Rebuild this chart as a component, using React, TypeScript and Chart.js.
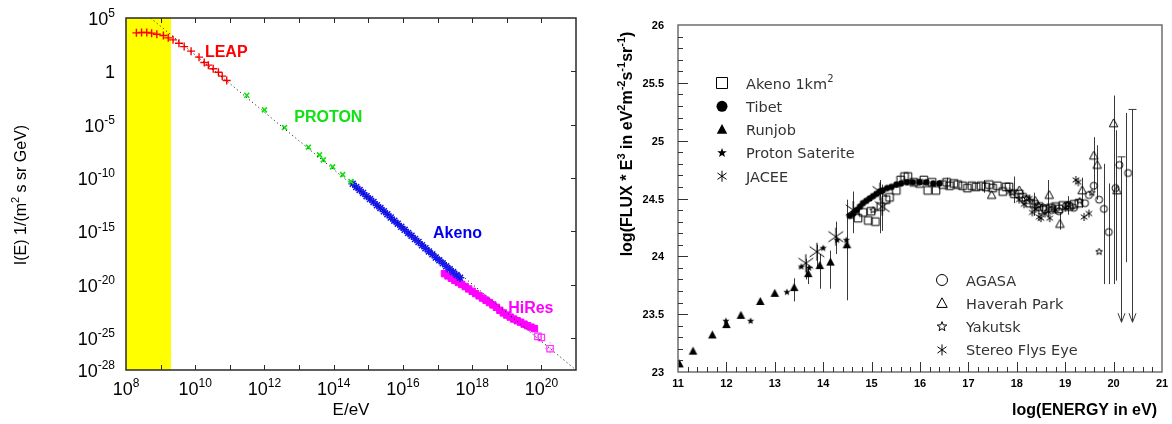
import React, { useEffect, useRef } from "react";
import { Chart, registerables } from "chart.js";

Chart.register(...registerables);

// ================= LEFT PANEL (values are log10) =================
const leftXLabelExps = [8, 10, 12, 14, 16, 18, 20];
const leftXTickExps = [9, 10, 11, 12, 13, 14, 15, 16, 17, 18, 19, 20];
const leftYLabelExps = [5, 0, -5, -10, -15, -20, -25, -28];
const leftXLimits = [8, 21];
const leftYLimits = [-28, 5];
const yellowBandLogE = [8, 9.3];

const fitLogE = [8.71, 21.0];
const fitLogI = [5.0, -28.0];

const leapLogE = [8.3, 8.45, 8.6, 8.74, 8.89, 9.08, 9.22, 9.36, 9.53, 9.68, 9.88, 10.11, 10.26, 10.38, 10.52, 10.67, 10.78, 10.91];
const leapLogI = [3.61, 3.64, 3.64, 3.58, 3.48, 3.36, 3.14, 2.95, 2.63, 2.32, 1.89, 1.33, 0.83, 0.58, 0.24, -0.08, -0.45, -0.86];

const protonLogE = [11.49, 12.0, 12.58, 13.27, 13.59, 13.7, 13.97, 14.26, 14.5];
const protonLogI = [-2.24, -3.61, -5.27, -7.11, -7.83, -8.3, -8.96, -9.68, -10.34];

const akenoLogE = [14.55, 14.65, 14.75, 14.85, 14.95, 15.05, 15.15, 15.25, 15.35, 15.45, 15.55, 15.65, 15.75, 15.85, 15.95, 16.05, 16.15, 16.25, 16.35, 16.45, 16.55, 16.65, 16.75, 16.85, 16.95, 17.05, 17.15, 17.25, 17.35, 17.45, 17.55, 17.65];
const akenoLogI = [-10.55, -10.85, -11.12, -11.4, -11.7, -11.98, -12.25, -12.55, -12.82, -13.12, -13.4, -13.7, -14.0, -14.28, -14.58, -14.86, -15.15, -15.42, -15.72, -16.0, -16.3, -16.58, -16.88, -17.16, -17.45, -17.72, -18.0, -18.28, -18.55, -18.82, -19.1, -19.35];

const hiresLogE = [17.2, 17.3, 17.4, 17.5, 17.6, 17.7, 17.8, 17.9, 18.0, 18.1, 18.2, 18.3, 18.4, 18.5, 18.6, 18.7, 18.8, 18.9, 19.0, 19.1, 19.2, 19.3, 19.4, 19.5, 19.6, 19.7, 19.8];
const hiresLogI = [-18.97, -19.18, -19.4, -19.6, -19.8, -19.98, -20.18, -20.4, -20.62, -20.84, -21.05, -21.26, -21.46, -21.68, -21.9, -22.12, -22.4, -22.65, -22.85, -23.04, -23.22, -23.38, -23.52, -23.7, -23.85, -23.98, -24.12];
const hiresHighLogE = [19.9, 20.0, 20.25];
const hiresHighLogI = [-24.85, -24.95, -26.0];
const hiresHighErrLogE = [0.08, 0.08, 0.15];
const hiresHighErrLogI = [0.35, 0.4, 0.6];

const seriesLabels = [
  { text: "LEAP", color: "#ff0000", logE: 10.28, logI: 1.95 },
  { text: "PROTON", color: "#11e011", logE: 12.86, logI: -4.23 },
  { text: "Akeno", color: "#0000ee", logE: 16.87, logI: -15.1 },
  { text: "HiRes", color: "#ff00ff", logE: 19.04, logI: -22.13 },
];

// ================= RIGHT PANEL =================
const rightXLabels = [11, 12, 13, 14, 15, 16, 17, 18, 19, 20, 21];
const rightYLabels = [23, 23.5, 24, 24.5, 25, 25.5, 26];

const akenoSqX = [14.72, 14.82, 14.93, 14.99, 15.08, 15.19, 15.3, 15.37, 15.51, 15.6, 15.68, 15.75, 15.87, 15.99, 16.08, 16.16, 16.25, 16.33, 16.47, 16.55, 16.61, 16.7, 16.78, 16.88, 16.98, 17.07, 17.16, 17.26, 17.36, 17.43, 17.5, 17.6, 17.71, 17.78, 17.84, 17.95, 18.05, 18.12, 18.19, 18.26, 18.36, 18.46, 18.53, 18.6, 18.7, 18.8, 18.87, 18.95, 19.08, 19.18, 19.28];
const akenoSqY = [24.33, 24.38, 24.31, 24.39, 24.3, 24.43, 24.49, 24.51, 24.57, 24.66, 24.69, 24.69, 24.64, 24.63, 24.66, 24.57, 24.64, 24.57, 24.62, 24.64, 24.61, 24.63, 24.62, 24.61, 24.59, 24.61, 24.6, 24.61, 24.6, 24.62, 24.59, 24.61, 24.56, 24.6, 24.6, 24.54, 24.54, 24.51, 24.49, 24.46, 24.45, 24.43, 24.4, 24.41, 24.42, 24.43, 24.41, 24.44, 24.43, 24.45, 24.46];

const tibetX = [14.55, 14.62, 14.69, 14.76, 14.82, 14.89, 14.96, 15.03, 15.1, 15.17, 15.23, 15.32, 15.41, 15.51, 15.61, 15.73, 15.85, 15.99, 16.13, 16.27, 16.4];
const tibetY = [24.35, 24.37, 24.4, 24.43, 24.46, 24.48, 24.5, 24.52, 24.54, 24.56, 24.57, 24.59, 24.6, 24.62, 24.63, 24.64, 24.64, 24.64, 24.64, 24.63, 24.63];

const runjobX = [11.03, 11.31, 11.71, 12.0, 12.3, 12.7, 13.0, 13.4, 13.69, 13.93, 14.15, 14.49];
const runjobY = [23.07, 23.18, 23.32, 23.41, 23.49, 23.61, 23.68, 23.73, 23.85, 23.92, 23.95, 24.1];

const protonSatX = [11.99, 12.5, 13.25, 13.55, 13.71, 14.0, 14.29, 14.48];
const protonSatY = [23.44, 23.44, 23.69, 23.91, 23.9, 24.07, 24.14, 24.14];

const jaceeX = [13.64, 13.87, 14.26, 14.62, 15.17, 15.22];
const jaceeY = [23.94, 24.04, 24.17, 24.4, 24.56, 24.43];

const agasaX = [18.55, 18.72, 18.87, 19.02, 19.18, 19.41, 19.49, 19.59, 19.7, 19.8, 19.9, 20.04, 20.12, 20.3];
const agasaY = [24.42, 24.4, 24.39, 24.44, 24.42, 24.46, 24.53, 24.61, 24.49, 24.41, 24.21, 24.59, 24.79, 24.72];

const haverahX = [17.48, 18.05, 18.38, 18.67, 18.89, 19.1, 19.35, 19.59, 19.66, 20.0, 20.07];
const haverahY = [24.53, 24.57, 24.48, 24.53, 24.28, 24.44, 24.57, 24.87, 24.79, 25.15, 24.57];

const yakutskX = [15.03, 17.9, 18.2, 18.45, 18.75, 19.05, 19.3, 19.55, 19.7];
const yakutskY = [24.4, 24.55, 24.5, 24.44, 24.42, 24.45, 24.48, 24.55, 24.04];

const flysEyeX = [17.85, 18.05, 18.15, 18.26, 18.32, 18.39, 18.46, 18.5, 18.58, 18.68, 18.8, 19.0, 19.22, 19.27, 19.39, 19.49];
const flysEyeY = [24.56, 24.49, 24.45, 24.5, 24.38, 24.41, 24.34, 24.33, 24.37, 24.33, 24.4, 24.42, 24.66, 24.64, 24.34, 24.37];

const errX = [13.4, 13.64, 13.69, 13.87, 13.93, 14.15, 14.26, 14.49, 14.62, 15.17, 15.22, 16.55, 17.33, 17.95, 18.36, 18.65, 18.89, 19.05, 19.35, 19.59, 19.66, 19.8, 19.9, 20.0, 20.05, 20.26];
const errLo = [23.61, 23.8, 23.76, 23.9, 23.72, 23.72, 24.02, 23.62, 24.2, 24.2, 24.22, 24.58, 24.55, 24.46, 24.35, 24.34, 24.23, 24.36, 24.42, 24.57, 24.49, 23.76, 23.76, 23.76, 23.79, 23.95];
const errHi = [23.81, 23.98, 23.91, 24.1, 24.02, 24.05, 24.3, 24.49, 24.56, 24.66, 24.62, 24.68, 24.66, 24.69, 24.55, 24.66, 24.38, 24.52, 24.68, 25.03, 24.96, 24.8, 24.63, 25.39, 25.09, 25.24];

const limitX = [20.16, 20.38];
const limitTop = [24.86, 25.27];
const limitBottom = [23.43, 23.43];

const legendTop = [
  { label: "Akeno 1km", sup: "2", sym: "square" },
  { label: "Tibet", sup: "", sym: "dot" },
  { label: "Runjob", sup: "", sym: "triFill" },
  { label: "Proton Saterite", sup: "", sym: "starFill" },
  { label: "JACEE", sup: "", sym: "aster" },
];
const legendBottom = [
  { label: "AGASA", sup: "", sym: "circle" },
  { label: "Haverah Park", sup: "", sym: "triOpen" },
  { label: "Yakutsk", sup: "", sym: "starOpen" },
  { label: "Stereo Flys Eye", sup: "", sym: "aster" },
];

// ================= helpers =================
const SANS = '"Liberation Sans", Arial, Helvetica, sans-serif';
const LEG = '"DejaVu Sans", "Liberation Sans", sans-serif';

type Seg = [string, boolean];
function drawRich(
  ctx: CanvasRenderingContext2D,
  segs: Seg[],
  x: number,
  y: number,
  size: number,
  weight: string,
  family: string,
  align: "left" | "center" | "right",
  color: string
) {
  const sup = Math.round(size * 0.68);
  let total = 0;
  const widths = segs.map(([t, s]) => {
    ctx.font = `${weight} ${s ? sup : size}px ${family}`;
    const w = ctx.measureText(t).width;
    total += w;
    return w;
  });
  let cx = align === "left" ? x : align === "center" ? x - total / 2 : x - total;
  ctx.fillStyle = color;
  ctx.textAlign = "left";
  ctx.textBaseline = "alphabetic";
  segs.forEach(([t, s], i) => {
    ctx.font = `${weight} ${s ? sup : size}px ${family}`;
    ctx.fillText(t, cx, s ? y - size * 0.42 : y);
    cx += widths[i];
  });
}

function drawSymbol(ctx: CanvasRenderingContext2D, kind: string, cx: number, cy: number, s: number) {
  ctx.save();
  ctx.strokeStyle = "#000";
  ctx.fillStyle = "#000";
  ctx.lineWidth = 1;
  ctx.beginPath();
  if (kind === "square") {
    ctx.rect(cx - s, cy - s, 2 * s, 2 * s);
    ctx.stroke();
  } else if (kind === "dot" || kind === "circle") {
    ctx.arc(cx, cy, s, 0, Math.PI * 2);
    if (kind === "dot") ctx.fill();
    else ctx.stroke();
  } else if (kind === "triFill" || kind === "triOpen") {
    ctx.moveTo(cx, cy - s);
    ctx.lineTo(cx + s * 0.95, cy + s * 0.75);
    ctx.lineTo(cx - s * 0.95, cy + s * 0.75);
    ctx.closePath();
    if (kind === "triFill") ctx.fill();
    else ctx.stroke();
  } else if (kind === "starFill" || kind === "starOpen") {
    for (let k = 0; k < 10; k++) {
      const r = k % 2 === 0 ? s : s * 0.42;
      const a = -Math.PI / 2 + (k * Math.PI) / 5;
      const px = cx + r * Math.cos(a);
      const py = cy + r * Math.sin(a);
      if (k === 0) ctx.moveTo(px, py);
      else ctx.lineTo(px, py);
    }
    ctx.closePath();
    if (kind === "starFill") ctx.fill();
    else ctx.stroke();
  } else if (kind === "aster") {
    for (const deg of [90, 35, 145]) {
      const r = (deg * Math.PI) / 180;
      ctx.moveTo(cx - s * Math.cos(r), cy - s * Math.sin(r));
      ctx.lineTo(cx + s * Math.cos(r), cy + s * Math.sin(r));
    }
    ctx.stroke();
  }
  ctx.restore();
}

function symbolCanvas(kind: string, s: number) {
  const c = document.createElement("canvas");
  const size = Math.ceil(2 * s + 4);
  c.width = size;
  c.height = size;
  const ctx = c.getContext("2d")!;
  drawSymbol(ctx, kind, size / 2, size / 2, s);
  return c;
}

const toPts = (xs: number[], ys: number[]) => xs.map((x, i) => ({ x: Math.pow(10, x), y: Math.pow(10, ys[i]) }));
const toLin = (xs: number[], ys: number[]) => xs.map((x, i) => ({ x, y: ys[i] }));

// ================= left plugin =================
const leftDecor = {
  id: "leftDecor",
  beforeDatasetsDraw(chart: any) {
    const { ctx, chartArea: a, scales } = chart;
    const xs = scales.x;
    const ys = scales.y;
    const x0 = xs.getPixelForValue(Math.pow(10, yellowBandLogE[0]));
    const x1 = xs.getPixelForValue(Math.pow(10, yellowBandLogE[1]));
    ctx.save();
    ctx.fillStyle = "#ffff00";
    ctx.fillRect(x0, a.top, x1 - x0, a.bottom - a.top);
    // dotted error crosshairs of the highest-energy HiRes points
    ctx.strokeStyle = "#ff66ff";
    ctx.lineWidth = 1;
    ctx.setLineDash([1, 1.5]);
    ctx.beginPath();
    hiresHighLogE.forEach((e, i) => {
      const px = xs.getPixelForValue(Math.pow(10, e));
      const py = ys.getPixelForValue(Math.pow(10, hiresHighLogI[i]));
      ctx.moveTo(xs.getPixelForValue(Math.pow(10, e - hiresHighErrLogE[i])), py);
      ctx.lineTo(xs.getPixelForValue(Math.pow(10, e + hiresHighErrLogE[i])), py);
      ctx.moveTo(px, ys.getPixelForValue(Math.pow(10, hiresHighLogI[i] + hiresHighErrLogI[i])));
      ctx.lineTo(px, ys.getPixelForValue(Math.pow(10, hiresHighLogI[i] - hiresHighErrLogI[i])));
    });
    ctx.stroke();
    ctx.restore();
  },
  afterDraw(chart: any) {
    const { ctx, chartArea: a, scales } = chart;
    const xs = scales.x;
    const ys = scales.y;
    ctx.save();
    // frame
    ctx.strokeStyle = "#2a2a2a";
    ctx.lineWidth = 1.5;
    ctx.strokeRect(a.left, a.top, a.right - a.left, a.bottom - a.top);
    // ticks
    ctx.lineWidth = 1;
    ctx.beginPath();
    for (const e of leftXTickExps) {
      const px = Math.round(xs.getPixelForValue(Math.pow(10, e))) + 0.5;
      ctx.moveTo(px, a.bottom);
      ctx.lineTo(px, a.bottom - 5);
      ctx.moveTo(px, a.top);
      ctx.lineTo(px, a.top + 5);
    }
    for (const e of leftYLabelExps) {
      if (e === leftYLimits[0] || e === leftYLimits[1]) continue;
      const py = Math.round(ys.getPixelForValue(Math.pow(10, e))) + 0.5;
      ctx.moveTo(a.right, py);
      ctx.lineTo(a.right - 5, py);
    }
    ctx.stroke();
    // tick labels
    for (const e of leftXLabelExps) {
      const px = xs.getPixelForValue(Math.pow(10, e));
      drawRich(ctx, [["10", false], [String(e), true]], px, a.bottom + 25, 18, "normal", SANS, "center", "#000");
    }
    for (const e of leftYLabelExps) {
      const py = ys.getPixelForValue(Math.pow(10, e));
      const segs: Seg[] = e === 0 ? [["1", false]] : [["10", false], [String(e), true]];
      drawRich(ctx, segs, a.left - 11, py + 7, 18, "normal", SANS, "right", "#000");
    }
    // axis titles
    drawRich(ctx, [["E/eV", false]], (a.left + a.right) / 2, a.bottom + 45, 17, "normal", SANS, "center", "#000");
    ctx.save();
    ctx.translate(26, 195);
    ctx.rotate(-Math.PI / 2);
    drawRich(ctx, [["I(E) 1/(m", false], ["2", true], [" s sr GeV)", false]], 0, 0, 16, "normal", SANS, "center", "#000");
    ctx.restore();
    // series labels
    for (const l of seriesLabels) {
      const px = xs.getPixelForValue(Math.pow(10, l.logE));
      const py = ys.getPixelForValue(Math.pow(10, l.logI));
      drawRich(ctx, [[l.text, false]], px, py + 6, 16, "bold", SANS, "left", l.color);
    }
    ctx.restore();
  },
};

// ================= right plugin =================
const rightDecor = {
  id: "rightDecor",
  beforeDatasetsDraw(chart: any) {
    const { ctx, scales } = chart;
    const xs = scales.x;
    const ys = scales.y;
    ctx.save();
    ctx.strokeStyle = "#3a3a3a";
    ctx.lineWidth = 1;
    ctx.beginPath();
    errX.forEach((v, i) => {
      const px = Math.round(xs.getPixelForValue(v)) + 0.5;
      ctx.moveTo(px, ys.getPixelForValue(errLo[i]));
      ctx.lineTo(px, ys.getPixelForValue(errHi[i]));
    });
    limitX.forEach((v, i) => {
      const px = Math.round(xs.getPixelForValue(v)) + 0.5;
      const yt = ys.getPixelForValue(limitTop[i]);
      const yb = ys.getPixelForValue(limitBottom[i]);
      ctx.moveTo(px, yt);
      ctx.lineTo(px, yb);
      ctx.moveTo(px - 4, yt);
      ctx.lineTo(px + 4, yt);
      ctx.moveTo(px - 3.5, yb - 9);
      ctx.lineTo(px, yb);
      ctx.lineTo(px + 3.5, yb - 9);
    });
    ctx.stroke();
    ctx.restore();
  },
  afterDraw(chart: any) {
    const { ctx, chartArea: a, scales } = chart;
    const xs = scales.x;
    const ys = scales.y;
    ctx.save();
    ctx.strokeStyle = "#6e6e6e";
    ctx.lineWidth = 1.5;
    ctx.strokeRect(a.left, a.top, a.right - a.left, a.bottom - a.top);
    ctx.strokeStyle = "#333";
    ctx.lineWidth = 1;
    ctx.beginPath();
    for (let i = 231; i < 260; i++) {
      const py = Math.round(ys.getPixelForValue(i / 10)) + 0.5;
      const len = i % 5 === 0 ? 10 : 5;
      ctx.moveTo(a.left, py);
      ctx.lineTo(a.left + len, py);
    }
    for (let i = 112; i < 210; i += 2) {
      const px = Math.round(xs.getPixelForValue(i / 10)) + 0.5;
      const len = i % 10 === 0 ? 10 : 5;
      ctx.moveTo(px, a.bottom);
      ctx.lineTo(px, a.bottom - len);
    }
    ctx.stroke();
    for (const v of rightYLabels) {
      const py = ys.getPixelForValue(v);
      drawRich(ctx, [[String(v), false]], a.left - 14, py + 4, 11, "bold", SANS, "right", "#000");
    }
    for (const v of rightXLabels) {
      const px = xs.getPixelForValue(v);
      drawRich(ctx, [[String(v), false]], px, a.bottom + 15, 11, "bold", SANS, "center", "#000");
    }
    // titles
    drawRich(ctx, [["log(ENERGY in eV)", false]], a.right - 5, a.bottom + 43, 16, "bold", SANS, "right", "#000");
    ctx.save();
    ctx.translate(a.left - 46, 144);
    ctx.rotate(-Math.PI / 2);
    drawRich(
      ctx,
      [["log(FLUX * E", false], ["3", true], [" in eV", false], ["2", true], ["m", false], ["-2", true], ["s", false], ["-1", true], ["sr", false], ["-1", true], [")", false]],
      0,
      0,
      16,
      "bold",
      SANS,
      "center",
      "#000"
    );
    ctx.restore();
    // legends
    const drawLegend = (items: { label: string; sup: string; sym: string }[], sx: number, sy: number) => {
      items.forEach((it, i) => {
        const cy = sy + i * 23.3;
        drawSymbol(ctx, it.sym, sx, cy, it.sym === "starFill" || it.sym === "starOpen" ? 5 : 5.5);
        const segs: Seg[] = it.sup ? [[it.label, false], [it.sup, true]] : [[it.label, false]];
        drawRich(ctx, segs, sx + 24, cy + 5.5, 14.5, "normal", LEG, "left", "#333");
      });
    };
    drawLegend(legendTop, a.left + 44, a.top + 58);
    drawLegend(legendBottom, a.left + 264, a.top + 255);
    ctx.restore();
  },
};

function leftConfig(): any {
  return {
    type: "scatter",
    data: {
      datasets: [
        {
          data: toPts(fitLogE, fitLogI),
          showLine: true,
          borderColor: "#000",
          borderWidth: 1,
          borderDash: [1, 3],
          pointRadius: 0,
        },
        { data: toPts(leapLogE, leapLogI), pointStyle: "cross", pointRadius: 4, borderColor: "#ff0000", borderWidth: 1.4 },
        { data: toPts(protonLogE, protonLogI), pointStyle: "crossRot", pointRadius: 3.5, borderColor: "#11e011", borderWidth: 1.6 },
        { data: toPts(akenoLogE, akenoLogI), pointStyle: "star", pointRadius: 4.2, borderColor: "#1515ee", borderWidth: 1.5 },
        { data: toPts(hiresLogE, hiresLogI), pointStyle: "rect", pointRadius: 4.5, borderColor: "#ff00ff", backgroundColor: "#ff00ff", borderWidth: 1 },
        { data: toPts(hiresHighLogE, hiresHighLogI), pointStyle: "rect", pointRadius: 4.5, borderColor: "#ff33ff", backgroundColor: "rgba(255,255,255,0)", borderWidth: 1.2 },
      ],
    },
    options: {
      animation: false,
      responsive: false,
      maintainAspectRatio: false,
      events: [],
      layout: { padding: { left: 126, top: 18, right: 24, bottom: 54 } },
      plugins: { legend: { display: false }, tooltip: { enabled: false } },
      scales: {
        x: { type: "logarithmic", min: Math.pow(10, leftXLimits[0]), max: Math.pow(10, leftXLimits[1]), display: false },
        y: { type: "logarithmic", min: Math.pow(10, leftYLimits[0]), max: Math.pow(10, leftYLimits[1]), display: false },
      },
    },
    plugins: [leftDecor],
  };
}

function rightConfig(): any {
  const ds = (xs: number[], ys: number[], kind: string, s: number) => ({
    data: toLin(xs, ys),
    pointStyle: symbolCanvas(kind, s),
    pointRadius: s,
  });
  return {
    type: "scatter",
    data: {
      datasets: [
        ds(jaceeX, jaceeY, "aster", 9),
        ds(flysEyeX, flysEyeY, "aster", 4),
        ds(yakutskX, yakutskY, "starOpen", 3.5),
        ds(haverahX, haverahY, "triOpen", 4.5),
        ds(agasaX, agasaY, "circle", 3.5),
        ds(protonSatX, protonSatY, "starFill", 3.8),
        ds(runjobX, runjobY, "triFill", 4.5),
        ds(tibetX, tibetY, "dot", 3.2),
        ds(akenoSqX, akenoSqY, "square", 3.8),
      ],
    },
    options: {
      animation: false,
      responsive: false,
      maintainAspectRatio: false,
      events: [],
      layout: { padding: { left: 78, top: 25, right: 9, bottom: 52 } },
      plugins: { legend: { display: false }, tooltip: { enabled: false } },
      scales: {
        x: { type: "linear", min: 11, max: 21, display: false },
        y: { type: "linear", min: 23, max: 26, display: false },
      },
    },
    plugins: [rightDecor],
  };
}

export default function App() {
  const leftRef = useRef<HTMLCanvasElement>(null);
  const rightRef = useRef<HTMLCanvasElement>(null);
  useEffect(() => {
    const c1 = new Chart(leftRef.current as HTMLCanvasElement, leftConfig());
    const c2 = new Chart(rightRef.current as HTMLCanvasElement, rightConfig());
    return () => {
      c1.destroy();
      c2.destroy();
    };
  }, []);
  return (
    <div style={{ position: "absolute", left: 0, top: 0, width: 1172, height: 424, background: "#fff", overflow: "hidden" }}>
      <canvas ref={leftRef} width={600} height={424} style={{ position: "absolute", left: 0, top: 0, width: 600, height: 424 }} />
      <canvas ref={rightRef} width={572} height={424} style={{ position: "absolute", left: 600, top: 0, width: 572, height: 424 }} />
    </div>
  );
}
